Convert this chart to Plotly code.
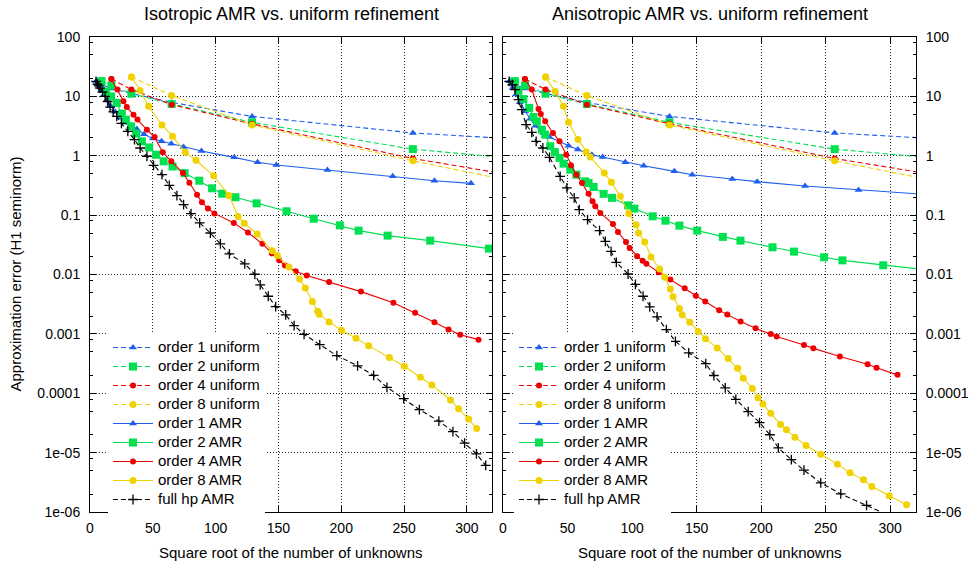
import plotly.graph_objects as go

# ---------------- data ----------------
# uniform refinement: identical in both panels
uni1_x = [5, 9, 17, 33, 65, 129, 257, 513]
uni1_y = [17.9, 15.8, 13.6, 11.2, 7.9, 4.6, 2.42, 1.16]
uni2_x = [9, 17, 33, 65, 129, 257, 513]
uni2_y = [17.9, 15.3, 11.1, 7.45, 3.65, 1.29, 0.41]
uni4_x = [17, 33, 65, 129, 257, 513]
uni4_y = [19.6, 13.0, 7.26, 3.45, 0.9, 0.11]
uni8_x = [33, 65, 129, 257, 513]
uni8_y = [21.2, 10.3, 3.3, 0.82, 0.065]

# isotropic AMR (left panel)
iso1_x = [5, 7, 9, 11, 13.5, 16.5, 20, 24, 28, 32, 37.3, 43, 50, 57, 64.7, 74.5, 88.7, 114.8, 133.4, 148.3, 189, 241, 274.2, 303.3]
iso1_y = [17.9, 15.0, 12.5, 10.5, 8.6, 6.9, 5.5, 4.4, 3.6, 3.2, 2.83, 2.3, 1.95, 1.75, 1.6, 1.41, 1.2, 0.94, 0.775, 0.70, 0.577, 0.45, 0.38, 0.343]
iso2_x = [9, 12.8, 16.8, 21.3, 25.3, 28.5, 32.7, 36.7, 41.3, 47.1, 52.7, 58.6, 65.7, 75.3, 87, 97.2, 105.2, 115.8, 132.6, 156.5, 178.1, 198.9, 213.8, 236.9, 270.8, 317.6]
iso2_y = [17.9, 12.1, 10.0, 7.74, 5.12, 4.06, 3.13, 2.36, 1.75, 1.38, 1.04, 0.805, 0.66, 0.51, 0.38, 0.283, 0.23, 0.20, 0.158, 0.116, 0.087, 0.0673, 0.0548, 0.0452, 0.0372, 0.0273]
iso4_x = [17, 21.8, 26.6, 29.3, 34.6, 37.8, 45.3, 51.4, 57.9, 64.7, 74, 79.1, 85.2, 89.1, 93.9, 99, 114.5, 125.7, 137.2, 144.7, 150.6, 155.2, 163.8, 172.5, 190.3, 215.7, 241.5, 258.8, 274.2, 285.4, 294.7, 309.3]
iso4_y = [19.6, 13.0, 8.24, 6.6, 4.92, 4.06, 2.75, 2.07, 1.14, 0.805, 0.51, 0.35, 0.22, 0.164, 0.129, 0.107, 0.074, 0.051, 0.033, 0.0226, 0.0173, 0.0142, 0.0113, 0.0096, 0.0075, 0.00515, 0.00333, 0.00226, 0.00157, 0.00118, 0.00097, 0.0008]
iso8_x = [33, 39.9, 46.6, 57.3, 65.7, 75.9, 84.4, 98.4, 110.5, 117.9, 122.8, 133.1, 145.1, 149.1, 158.3, 166.9, 171.4, 177, 181.3, 182.4, 190.3, 200.2, 211.7, 221.8, 238.3, 250.2, 263, 272.1, 287, 293.4, 301.4, 307.8]
iso8_y = [21.2, 12.6, 6.8, 3.3, 2.12, 1.14, 0.84, 0.46, 0.215, 0.095, 0.073, 0.048, 0.025, 0.0208, 0.0134, 0.0084, 0.0059, 0.0035, 0.0024, 0.00215, 0.00159, 0.00115, 0.00084, 0.00063, 0.0004, 0.000285, 0.000186, 0.000138, 7.7e-5, 5.5e-5, 3.7e-5, 2.55e-5]
isohp_x = [4.8, 6, 7, 8, 10, 12, 14, 16, 18.5, 21.3, 25, 30.1, 35.4, 39.9, 45.3, 50.6, 57.3, 63.1, 69.2, 74.5, 80.4, 87.3, 95.8, 103.8, 111, 123.2, 131.2, 135.5, 141.9, 147.8, 155.8, 162.5, 170.4, 182.9, 196.5, 213, 225.8, 236.4, 249.7, 262.2, 277.7, 288.9, 298.2, 307.6, 315]
isohp_y = [17.9, 16.0, 15.0, 13.8, 11.8, 10.0, 8.2, 6.6, 5.5, 4.6, 3.5, 2.57, 1.87, 1.35, 0.98, 0.69, 0.48, 0.318, 0.213, 0.150, 0.106, 0.074, 0.050, 0.0327, 0.0222, 0.0151, 0.0101, 0.0067, 0.0043, 0.00288, 0.00209, 0.00138, 0.00098, 0.00066, 0.00043, 0.00029, 0.0002, 0.000126, 8.1e-5, 5.3e-5, 3.4e-5, 2.26e-5, 1.44e-5, 9.5e-6, 6.1e-6]

# anisotropic AMR (right panel)
ani1_x = [5, 7.5, 10, 13, 17.2, 21, 25, 31.4, 36, 50.8, 58, 68.9, 77.2, 94.8, 109, 132.8, 146.6, 177.6, 197, 234, 275.5, 345]
ani1_y = [17.9, 14.0, 10.8, 8.0, 5.6, 4.2, 3.2, 2.42, 2.07, 1.48, 1.27, 1.04, 0.955, 0.775, 0.68, 0.546, 0.48, 0.407, 0.366, 0.31, 0.266, 0.21]
ani2_x = [9, 12, 15.8, 20.3, 23.6, 26.2, 30.1, 32.7, 36.6, 40.2, 43.8, 46.9, 52.1, 56.8, 63.7, 66.3, 70.2, 78, 84.5, 96.9, 101.8, 116, 125.9, 136.7, 150.5, 170.3, 184, 208.8, 225.5, 248.8, 263, 294.6, 340]
ani2_y = [17.9, 12.5, 9.0, 6.4, 4.5, 3.8, 2.75, 2.27, 1.45, 1.15, 0.92, 0.736, 0.583, 0.48, 0.37, 0.348, 0.298, 0.228, 0.195, 0.146, 0.129, 0.0955, 0.0807, 0.0665, 0.0548, 0.043, 0.0372, 0.0287, 0.0243, 0.0195, 0.0173, 0.0143, 0.0112]
ani4_x = [17, 22.3, 27.5, 29.3, 32.7, 38.7, 43.8, 49, 52.6, 56.8, 61.2, 66.3, 69.4, 71.5, 75.4, 85.2, 89.1, 95.3, 98.1, 103.9, 108.2, 111.1, 120.7, 129.7, 140.8, 149.4, 156.7, 167.5, 173.8, 184.1, 195.7, 207.4, 212, 233.2, 240.5, 261, 282.5, 289.4, 305.7]
ani4_y = [19.6, 13.0, 6.14, 5.06, 3.8, 2.42, 1.75, 1.04, 0.69, 0.48, 0.348, 0.23, 0.171, 0.141, 0.109, 0.071, 0.052, 0.0354, 0.028, 0.0203, 0.0171, 0.0151, 0.0109, 0.0082, 0.00586, 0.00437, 0.0035, 0.0025, 0.00211, 0.00161, 0.00124, 0.001, 0.0009, 0.00065, 0.00057, 0.000415, 0.000308, 0.000268, 0.000204]
ani8_x = [33, 40.4, 46.9, 50.8, 58.1, 64.5, 67.6, 78.5, 84, 90.9, 97.4, 103.1, 105.1, 109.8, 114.7, 121.4, 125.3, 129.7, 131.8, 136.7, 138.8, 144.7, 151.2, 156.9, 166, 174.5, 181.8, 186.2, 193.2, 197.5, 201.4, 207.4, 215.1, 219.6, 226.2, 234.8, 246.2, 259.1, 268.9, 279.3, 285.8, 299.2, 312.7]
ani8_y = [21.2, 12.1, 6.8, 3.65, 1.87, 1.16, 0.955, 0.51, 0.357, 0.207, 0.106, 0.069, 0.05, 0.0354, 0.0198, 0.0124, 0.009, 0.0057, 0.0042, 0.00267, 0.0021, 0.00157, 0.0011, 0.00083, 0.00058, 0.000384, 0.000264, 0.000179, 0.00012, 8.4e-5, 6.6e-5, 4.6e-5, 2.97e-5, 2.42e-5, 1.82e-5, 1.32e-5, 9.4e-6, 6.4e-6, 4.57e-6, 3.48e-6, 2.69e-6, 1.87e-6, 1.32e-6]
anihp_x = [4.8, 7.3, 9.4, 12, 14.6, 17.9, 22.3, 25.7, 30.9, 36, 44.3, 49.5, 55.2, 59.1, 65.5, 74.8, 79.3, 83.7, 87.8, 96.9, 102.6, 108.5, 113.7, 119.4, 126.6, 133.6, 143.9, 157.1, 163.4, 172.2, 180.4, 190, 198.8, 206.8, 213.3, 223.4, 233.2, 246.2, 261.7, 281.7, 301]
anihp_y = [17.9, 15.7, 13.0, 8.8, 5.97, 3.34, 2.48, 1.75, 1.35, 0.94, 0.45, 0.287, 0.195, 0.124, 0.084, 0.0548, 0.0362, 0.0246, 0.016, 0.0102, 0.0068, 0.0043, 0.00285, 0.00193, 0.00118, 0.00075, 0.00048, 0.000316, 0.000199, 0.000123, 7.9e-5, 4.9e-5, 3.2e-5, 2e-5, 1.2e-5, 7.65e-6, 5.06e-6, 3.1e-6, 2.02e-6, 1.29e-6, 8.3e-7]

series_names = ["order 1 uniform", "order 2 uniform", "order 4 uniform", "order 8 uniform",
                "order 1 AMR", "order 2 AMR", "order 4 AMR", "order 8 AMR", "full hp AMR"]
panel_titles = ["Isotropic AMR vs. uniform refinement", "Anisotropic AMR vs. uniform refinement"]
x_title = "Square root of the number of unknowns"
y_title = "Approximation error (H1 seminorm)"
x_tickvals = [0, 50, 100, 150, 200, 250, 300]
y_tickvals = [1e-6, 1e-5, 1e-4, 1e-3, 1e-2, 1e-1, 1, 10, 100]
y_ticktext = ["1e-06", "1e-05", "0.0001", "0.001", "0.01", "0.1", "1", "10", "100"]
y_minor = [m * 10.0 ** k for k in range(-6, 2) for m in (2, 5, 8)]

# ---------------- styling ----------------
BLUE, GREEN, RED, YELLOW, BLACK = "#1f5ff0", "#00e050", "#ee0000", "#f0d200", "#000000"
FONT = "Liberation Sans, Arial, sans-serif"
DASH = "5px,3px"
styles = [
    dict(color=BLUE, dash=DASH, symbol="triangle-up", size=7),
    dict(color=GREEN, dash=DASH, symbol="square", size=8),
    dict(color=RED, dash=DASH, symbol="circle", size=6),
    dict(color=YELLOW, dash=DASH, symbol="circle", size=7),
    dict(color=BLUE, dash="solid", symbol="triangle-up", size=7),
    dict(color=GREEN, dash="solid", symbol="square", size=8),
    dict(color=RED, dash="solid", symbol="circle", size=6),
    dict(color=YELLOW, dash="solid", symbol="circle", size=7),
    dict(color=BLACK, dash=DASH, symbol="cross-thin", size=7),
]

panels = [
    [(uni1_x, uni1_y), (uni2_x, uni2_y), (uni4_x, uni4_y), (uni8_x, uni8_y),
     (iso1_x, iso1_y), (iso2_x, iso2_y), (iso4_x, iso4_y), (iso8_x, iso8_y), (isohp_x, isohp_y)],
    [(uni1_x, uni1_y), (uni2_x, uni2_y), (uni4_x, uni4_y), (uni8_x, uni8_y),
     (ani1_x, ani1_y), (ani2_x, ani2_y), (ani4_x, ani4_y), (ani8_x, ani8_y), (anihp_x, anihp_y)],
]

fig = go.Figure()
for p, series in enumerate(panels):
    xa, ya = ("x", "y") if p == 0 else ("x2", "y2")
    leg = "legend" if p == 0 else "legend2"
    for (sx, sy), name, st in zip(series, series_names, styles):
        marker = dict(symbol=st["symbol"], size=st["size"], color=st["color"])
        if st["symbol"] == "cross-thin":
            marker["line"] = dict(color=st["color"], width=1.3)
        fig.add_trace(go.Scatter(
            x=sx, y=sy, mode="lines+markers", xaxis=xa, yaxis=ya, legend=leg,
            name='<span style="font-size:15px">' + name + '</span>',
            line=dict(color=st["color"], width=1.1, dash=st["dash"]),
            marker=marker,
        ))

W, H = 975, 568
ML, MR, MT, MB = 90, 59, 37, 56
PW, PH = W - ML - MR, H - MT - MB

common_x = dict(range=[0, 320], tickvals=x_tickvals, ticks="inside", ticklen=6, tickcolor="black",
                showline=True, linecolor="black", linewidth=1, mirror="ticks",
                showgrid=True, gridcolor="#222", griddash="1px,2px", gridwidth=1, zeroline=False,
                automargin=False, ticklabelstandoff=3,
                tickfont=dict(family=FONT, size=14, color="black"))
common_y = dict(type="log", range=[-6, 2], tickvals=y_tickvals, ticktext=y_ticktext,
                ticks="inside", ticklen=6, tickcolor="black",
                minor=dict(tickvals=y_minor, ticks="inside", ticklen=3, tickcolor="black", showgrid=False),
                showline=True, linecolor="black", linewidth=1, mirror="ticks",
                showgrid=True, gridcolor="#222", griddash="1px,2px", gridwidth=1, zeroline=False,
                automargin=False, ticklabelstandoff=6,
                tickfont=dict(family=FONT, size=14, color="black"), domain=[0, 1])

ann_font = dict(family=FONT, size=15, color="black")
fig.update_layout(
    width=W, height=H, margin=dict(l=ML, r=MR, t=MT, b=MB),
    paper_bgcolor="white", plot_bgcolor="white",
    xaxis=dict(domain=[0, (492 - ML) / PW], anchor="y", **common_x),
    xaxis2=dict(domain=[(503 - ML) / PW, 1], anchor="y2", **common_x),
    yaxis=dict(anchor="x", side="left", **common_y),
    yaxis2=dict(anchor="x2", side="right", **common_y),
    legend=dict(x=(108 - ML) / PW, xanchor="left", y=(H - MB - 514) / PH, yanchor="bottom",
                bgcolor="white", font=dict(family=FONT, size=12, color="black"),
                itemwidth=40, tracegroupgap=0),
    legend2=dict(x=(514 - ML) / PW, xanchor="left", y=(H - MB - 514) / PH, yanchor="bottom",
                 bgcolor="white", font=dict(family=FONT, size=12, color="black"),
                 itemwidth=40, tracegroupgap=0),
    showlegend=True,
    annotations=[
        dict(text=panel_titles[0], xref="x domain", yref="paper", x=0.5, y=1 + (MT - 14) / PH,
             showarrow=False, xanchor="center", yanchor="middle",
             font=dict(family=FONT, size=18, color="black")),
        dict(text=panel_titles[1], xref="x2 domain", yref="paper", x=0.5, y=1 + (MT - 14) / PH,
             showarrow=False, xanchor="center", yanchor="middle",
             font=dict(family=FONT, size=18, color="black")),
        dict(text=x_title, xref="x domain", yref="paper", x=0.5, y=-(552 - (H - MB)) / PH,
             showarrow=False, xanchor="center", yanchor="middle", font=ann_font),
        dict(text=x_title, xref="x2 domain", yref="paper", x=0.5, y=-(552 - (H - MB)) / PH,
             showarrow=False, xanchor="center", yanchor="middle", font=ann_font),
        dict(text=y_title, xref="paper", yref="paper", x=-(ML - 15) / PW, y=0.5, textangle=-90,
             showarrow=False, xanchor="center", yanchor="middle", font=ann_font),
    ],
)

# remove the browser's default 8px body margin so the figure sits at the page origin
fig.write_html("out.html", config={"displayModeBar": False},
               post_script="document.body.style.margin='0px';")
